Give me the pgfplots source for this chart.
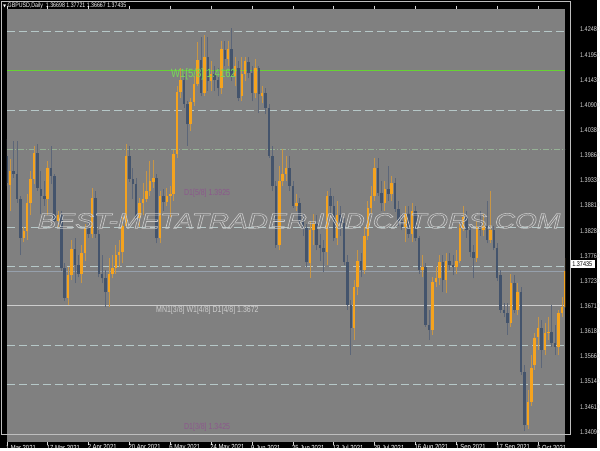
\documentclass[border=0pt]{standalone}
\usepackage{fontspec}
\setmainfont{Liberation Sans}
\newfontfamily\mtfont[FakeStretch=0.8]{Liberation Sans}
\newfontfamily\wmfont[FakeBold=2.5]{Liberation Sans}
\newfontfamily\symfont{DejaVu Sans}
\usepackage{graphicx}
\usepackage{pgfplots}
\usepackage{pgfplotstable}
\pgfplotsset{compat=1.18}

\definecolor{chartbg}{RGB}{128,128,128}
\definecolor{bull}{RGB}{245,163,30}
\definecolor{bear}{RGB}{68,84,108}
\definecolor{bullwick}{RGB}{200,150,70}
\definecolor{bearwick}{RGB}{92,102,120}
\definecolor{levelgray}{RGB}{182,200,200}
\definecolor{levelgreen}{RGB}{150,178,150}
\definecolor{mmgreen}{RGB}{102,210,51}
\definecolor{mmgreentext}{RGB}{120,215,90}
\definecolor{mmpurple}{RGB}{140,88,140}
\definecolor{mnline}{RGB}{205,205,205}
\definecolor{bidline}{RGB}{150,160,172}
\definecolor{scaletext}{RGB}{215,215,215}
\definecolor{framecol}{RGB}{190,190,190}
\definecolor{wm}{RGB}{200,200,200}

% GBPUSD daily, 1 Mar - 15 Oct 2021: bar index, open, high, low, close
\pgfplotstableread{
i o h l c
0 1.3984 1.4019 1.3922 1.3928
1 1.3924 1.3978 1.3870 1.3953
2 1.3953 1.4015 1.3939 1.3947
3 1.3947 1.4015 1.3887 1.3895
4 1.3895 1.3901 1.3777 1.3814
5 1.3814 1.3835 1.3804 1.3827
6 1.3827 1.3905 1.3808 1.3887
7 1.3887 1.3953 1.3860 1.3936
8 1.3936 1.4005 1.3926 1.3990
9 1.3990 1.4009 1.3912 1.3918
10 1.3916 1.3953 1.3864 1.3901
11 1.3901 1.3932 1.3880 1.3895
12 1.3895 1.3974 1.3860 1.3959
13 1.3959 1.4005 1.3926 1.3943
14 1.3943 1.3947 1.3843 1.3849
15 1.3849 1.3870 1.3835 1.3860
16 1.3860 1.3870 1.3744 1.3750
17 1.3750 1.3760 1.3681 1.3688
18 1.3688 1.3752 1.3673 1.3735
19 1.3735 1.3808 1.3725 1.3791
20 1.3791 1.3812 1.3719 1.3756
21 1.3756 1.3777 1.3731 1.3739
22 1.3739 1.3798 1.3719 1.3781
23 1.3781 1.3843 1.3766 1.3833
24 1.3833 1.3849 1.3814 1.3822
25 1.3822 1.3918 1.3814 1.3897
26 1.3897 1.3910 1.3814 1.3822
27 1.3822 1.3829 1.3731 1.3739
28 1.3739 1.3777 1.3719 1.3729
29 1.3729 1.3746 1.3669 1.3700
30 1.3700 1.3771 1.3669 1.3739
31 1.3739 1.3777 1.3729 1.3750
32 1.3750 1.3798 1.3739 1.3777
33 1.3777 1.3808 1.3752 1.3783
34 1.3783 1.3856 1.3760 1.3839
35 1.3839 1.4009 1.3835 1.3984
36 1.3984 1.4005 1.3930 1.3936
37 1.3936 1.3959 1.3895 1.3926
38 1.3926 1.3939 1.3847 1.3854
39 1.3854 1.3897 1.3835 1.3887
40 1.3887 1.3928 1.3860 1.3895
41 1.3895 1.3953 1.3889 1.3912
42 1.3912 1.3974 1.3901 1.3932
43 1.3930 1.3976 1.3918 1.3939
44 1.3939 1.3947 1.3802 1.3812
45 1.3812 1.3912 1.3802 1.3901
46 1.3901 1.3916 1.3870 1.3889
47 1.3889 1.3918 1.3880 1.3901
48 1.3901 1.3922 1.3856 1.3905
49 1.3905 1.3997 1.3891 1.3988
50 1.3988 1.4129 1.3980 1.4117
51 1.4117 1.4167 1.4104 1.4142
52 1.4142 1.4154 1.4084 1.4092
53 1.4092 1.4098 1.4005 1.4050
54 1.4050 1.4104 1.4036 1.4096
55 1.4096 1.4150 1.4088 1.4135
56 1.4135 1.4221 1.4129 1.4185
57 1.4185 1.4233 1.4109 1.4115
58 1.4115 1.4237 1.4109 1.4191
59 1.4191 1.4233 1.4119 1.4140
60 1.4140 1.4181 1.4119 1.4154
61 1.4154 1.4171 1.4119 1.4142
62 1.4142 1.4167 1.4109 1.4125
63 1.4125 1.4223 1.4113 1.4206
64 1.4204 1.4223 1.4171 1.4187
65 1.4187 1.4223 1.4171 1.4208
66 1.4208 1.4250 1.4140 1.4150
67 1.4150 1.4191 1.4129 1.4171
68 1.4167 1.4181 1.4098 1.4104
69 1.4109 1.4191 1.4098 1.4154
70 1.4154 1.4191 1.4140 1.4181
71 1.4179 1.4191 1.4146 1.4156
72 1.4156 1.4171 1.4098 1.4115
73 1.4115 1.4187 1.4104 1.4167
74 1.4167 1.4171 1.4073 1.4113
75 1.4109 1.4129 1.4094 1.4115
76 1.4115 1.4125 1.4071 1.4084
77 1.4084 1.4092 1.3980 1.3984
78 1.3984 1.4005 1.3912 1.3922
79 1.3922 1.3932 1.3793 1.3798
80 1.3798 1.3963 1.3787 1.3932
81 1.3932 1.3999 1.3922 1.3947
82 1.3947 1.3984 1.3932 1.3959
83 1.3959 1.3984 1.3912 1.3922
84 1.3922 1.3932 1.3876 1.3880
85 1.3880 1.3905 1.3870 1.3885
86 1.3885 1.3897 1.3843 1.3849
87 1.3849 1.3864 1.3818 1.3833
88 1.3833 1.3843 1.3752 1.3762
89 1.3760 1.3849 1.3729 1.3829
90 1.3829 1.3864 1.3798 1.3843
91 1.3843 1.3860 1.3787 1.3798
92 1.3798 1.3822 1.3766 1.3793
93 1.3793 1.3808 1.3742 1.3783
94 1.3783 1.3912 1.3756 1.3901
95 1.3901 1.3918 1.3860 1.3880
96 1.3880 1.3901 1.3806 1.3812
97 1.3812 1.3891 1.3798 1.3860
98 1.3860 1.3880 1.3818 1.3845
99 1.3845 1.3854 1.3756 1.3762
100 1.3762 1.3777 1.3663 1.3673
101 1.3673 1.3684 1.3569 1.3625
102 1.3625 1.3725 1.3600 1.3710
103 1.3710 1.3787 1.3694 1.3766
104 1.3766 1.3781 1.3731 1.3746
105 1.3746 1.3835 1.3739 1.3818
106 1.3818 1.3891 1.3808 1.3876
107 1.3876 1.3922 1.3864 1.3901
108 1.3901 1.3980 1.3891 1.3959
109 1.3959 1.3980 1.3901 1.3907
110 1.3907 1.3932 1.3870 1.3885
111 1.3885 1.3932 1.3870 1.3916
112 1.3916 1.3963 1.3891 1.3905
113 1.3905 1.3943 1.3891 1.3928
114 1.3928 1.3939 1.3868 1.3874
115 1.3874 1.3891 1.3839 1.3849
116 1.3849 1.3864 1.3829 1.3835
117 1.3835 1.3880 1.3804 1.3864
118 1.3864 1.3880 1.3814 1.3822
119 1.3822 1.3885 1.3804 1.3870
120 1.3870 1.3880 1.3806 1.3812
121 1.3812 1.3818 1.3739 1.3746
122 1.3746 1.3777 1.3731 1.3752
123 1.3752 1.3760 1.3628 1.3632
124 1.3632 1.3663 1.3600 1.3621
125 1.3621 1.3731 1.3611 1.3721
126 1.3721 1.3752 1.3710 1.3729
127 1.3729 1.3777 1.3715 1.3762
128 1.3762 1.3777 1.3700 1.3725
129 1.3725 1.3781 1.3698 1.3766
130 1.3766 1.3781 1.3746 1.3756
131 1.3756 1.3777 1.3735 1.3752
132 1.3752 1.3787 1.3739 1.3766
133 1.3766 1.3843 1.3760 1.3833
134 1.3833 1.3880 1.3827 1.3856
135 1.3856 1.3870 1.3814 1.3829
136 1.3829 1.3839 1.3773 1.3783
137 1.3783 1.3798 1.3729 1.3771
138 1.3771 1.3849 1.3764 1.3835
139 1.3835 1.3870 1.3818 1.3829
140 1.3829 1.3864 1.3818 1.3839
141 1.3839 1.3891 1.3802 1.3808
142 1.3808 1.3912 1.3802 1.3829
143 1.3829 1.3839 1.3787 1.3793
144 1.3793 1.3802 1.3723 1.3729
145 1.3735 1.3746 1.3657 1.3663
146 1.3663 1.3677 1.3648 1.3657
147 1.3657 1.3677 1.3611 1.3636
148 1.3636 1.3739 1.3628 1.3719
149 1.3719 1.3735 1.3657 1.3663
150 1.3663 1.3719 1.3652 1.3700
151 1.3700 1.3710 1.3528 1.3534
152 1.3534 1.3549 1.3410 1.3424
153 1.3424 1.3497 1.3414 1.3472
154 1.3472 1.3569 1.3462 1.3542
155 1.3549 1.3615 1.3538 1.3605
156 1.3607 1.3648 1.3580 1.3625
157 1.3625 1.3642 1.3542 1.3580
158 1.3580 1.3636 1.3569 1.3615
159 1.3615 1.3648 1.3600 1.3617
160 1.3617 1.3673 1.3586 1.3594
161 1.3594 1.3632 1.3569 1.3586
162 1.3586 1.3663 1.3569 1.3656
163 1.3656 1.3690 1.3648 1.3669
164 1.36698 1.37721 1.36667 1.37435
}\ohlc

\newcommand\scalefont{\mtfont\fontsize{6.9}{7}\selectfont}
\newcommand\datefont{\mtfont\fontsize{7.4}{8}\selectfont}

\begin{document}
\begin{tikzpicture}[x=1pt,y=1pt]
\fill[black] (0,0) rectangle (600,450);
\begin{axis}[
    at={(2,13)}, anchor=south west,
    scale only axis, width=561pt, height=435pt,
    xmin=0, xmax=163.9, ymin=1.33888, ymax=1.42910,
    axis background/.style={fill=chartbg},
    axis line style={draw=none},
    tick align=outside, major tick length=3pt,
    xtick={0,12,...,156},
    xticklabels={1 Mar 2021,17 Mar 2021,2 Apr 2021,20 Apr 2021,6 May 2021,24 May 2021,9 Jun 2021,25 Jun 2021,13 Jul 2021,29 Jul 2021,16 Aug 2021,1 Sep 2021,17 Sep 2021,5 Oct 2021},
    x tick style={draw=white!85!black, line width=0.6pt},
    xticklabel style={anchor=west, inner sep=0pt, yshift=-3pt, xshift=-1pt, font=\datefont, text=white},
    ytick={1.34090,1.34610,1.35140,1.35660,1.36180,1.36710,1.37230,1.37760,1.38280,1.38810,1.39330,1.39860,1.40380,1.40900,1.41430,1.41950,1.42480},
    yticklabel pos=right,
    y tick style={draw=none},
    scaled y ticks=false,
    yticklabel style={anchor=west, inner sep=0pt, xshift=12pt, font=\scalefont, text=scaletext,
        /pgf/number format/.cd, fixed, fixed zerofill, precision=5, assume math mode=true},
]
% level lines
\addplot[levelgray, line width=0.7pt, dash pattern=on 8pt off 4pt, forget plot] coordinates {(0,1.42433) (163.9,1.42433)};
\addplot[levelgray, line width=0.7pt, dash pattern=on 8pt off 4pt, forget plot] coordinates {(0,1.40794) (163.9,1.40794)};
\addplot[levelgreen, line width=0.6pt, dash pattern=on 6pt off 2pt on 1pt off 2pt, forget plot] coordinates {(0,1.39979) (163.9,1.39979)};
\addplot[levelgray, line width=0.7pt, dash pattern=on 8pt off 4pt, forget plot] coordinates {(0,1.38347) (163.9,1.38347)};
\addplot[levelgray, line width=0.7pt, dash pattern=on 8pt off 4pt, forget plot] coordinates {(0,1.37538) (163.9,1.37538)};
\addplot[levelgray, line width=0.7pt, dash pattern=on 8pt off 4pt, forget plot] coordinates {(0,1.35899) (163.9,1.35899)};
\addplot[levelgray, line width=0.7pt, dash pattern=on 8pt off 4pt, forget plot] coordinates {(0,1.35084) (163.9,1.35084)};
\addplot[mmgreen, line width=1.1pt, forget plot] coordinates {(0,1.41617) (163.9,1.41617)};
\addplot[mnline, line width=0.9pt, forget plot] coordinates {(0,1.36720) (163.9,1.36720)};
\addplot[bidline, line width=0.5pt, forget plot] coordinates {(0,1.37435) (163.9,1.37435)};

% wicks
\addplot[draw=none, mark=none, forget plot, restrict y to domain=1.3:1.5,
    error bars/.cd, y dir=plus, y explicit, error mark=none,
    error bar style={draw=bullwick, line width=0.8pt, solid}]
    table[x=i, y expr={\thisrow{c}<\thisrow{o} ? 0 : \thisrow{l}},
          y error plus expr={\thisrow{h}-\thisrow{l}}] {\ohlc};
\addplot[draw=none, mark=none, forget plot, restrict y to domain=1.3:1.5,
    error bars/.cd, y dir=plus, y explicit, error mark=none,
    error bar style={draw=bearwick, line width=0.8pt, solid}]
    table[x=i, y expr={\thisrow{c}<\thisrow{o} ? \thisrow{l} : 0},
          y error plus expr={\thisrow{h}-\thisrow{l}}] {\ohlc};
% bodies
\addplot[draw=none, mark=none, forget plot, restrict y to domain=1.3:1.5,
    error bars/.cd, y dir=plus, y explicit, error mark=none,
    error bar style={draw=bull, line width=2.5pt, solid}]
    table[x=i, y expr={\thisrow{c}<\thisrow{o} ? 0 : \thisrow{o}},
          y error plus expr={max(\thisrow{c}-\thisrow{o},0.00015)}] {\ohlc};
\addplot[draw=none, mark=none, forget plot, restrict y to domain=1.3:1.5,
    error bars/.cd, y dir=plus, y explicit, error mark=none,
    error bar style={draw=bear, line width=2.5pt, solid}]
    table[x=i, y expr={\thisrow{c}<\thisrow{o} ? \thisrow{c} : 0},
          y error plus expr={max(\thisrow{o}-\thisrow{c},0.00015)}] {\ohlc};

% level labels
\node[anchor=west, inner sep=0pt, text=mmgreentext, font=\mtfont\fontsize{12}{12}\selectfont] at (axis cs:48.2,1.41541) {W1[5/8] 1.4162};
\node[anchor=west, inner sep=0pt, text=mnline, font=\mtfont\fontsize{8.8}{9}\selectfont] at (axis cs:43.8,1.36625) {MN1[3/8] W1[4/8] D1[4/8] 1.3672};
\node[anchor=west, inner sep=0pt, text=mmpurple, font=\mtfont\fontsize{8.8}{9}\selectfont] at (axis cs:52.0,1.39073) {D1[5/8] 1.3925};
\node[anchor=west, inner sep=0pt, text=mmpurple, font=\mtfont\fontsize{8.8}{9}\selectfont] at (axis cs:52.0,1.34178) {D1[3/8] 1.3425};
\end{axis}

% watermark: stroked letters only (fill made transparent)
\node[inner sep=0pt, text=wm] at (300.5,228) {\pgfsetfillopacity{0}\resizebox{525pt}{15pt}{\wmfont\itshape BEST-METATRADER-INDICATORS.COM}};

% frame and price scale line
\draw[framecol, line width=0.8pt] (1,13) -- (1,449) -- (573,449) -- (573,13) -- cycle;
% current price box
\fill[white] (573.5,180.5) rectangle (598,188.5);
\node[anchor=west, inner sep=0pt, text=black, font=\scalefont] at (575,184.5) {1.37435};
% title
\node[anchor=west, inner sep=0pt, text=white, font=\mtfont\fontsize{6.6}{7}\selectfont] at (3,444) {{\symfont\fontsize{4}{4}\selectfont ▼}\ GBPUSD,Daily\ \ 1.36698 1.37721 1.36667 1.37435};
\end{tikzpicture}
\end{document}
